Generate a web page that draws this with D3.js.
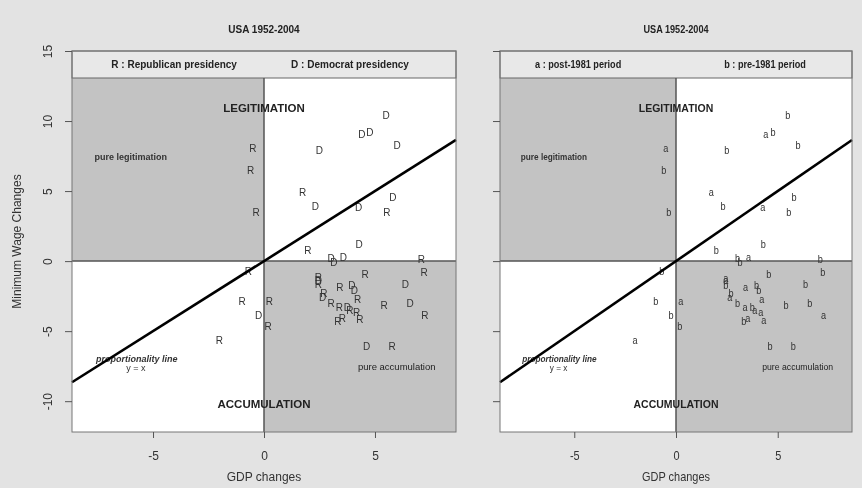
<!DOCTYPE html>
<html><head><meta charset="utf-8">
<script src="https://cdn.jsdelivr.net/npm/d3@7"></script>
<style>
body{margin:0;background:#e3e3e3}
svg{display:block;font-family:"Liberation Sans",Arial,Helvetica,sans-serif;filter:grayscale(100%)}
</style>
</head><body>
<svg id="chart" width="862" height="488"></svg>
<script>
// ---- data ----
const gdpChange = [-0.5,-0.6,-0.35,5.5,4.41,4.77,6.0,2.49,1.74,2.31,4.26,5.8,5.54,4.29,1.98,3.02,3.15,3.57,7.09,
  -0.7,-0.99,0.24,-0.24,0.19,-2.01,7.21,4.56,6.37,3.42,3.96,4.07,4.22,3.02,3.39,3.75,3.87,4.17,4.32,3.53,3.33,
  5.41,6.58,7.25,4.62,5.77,2.45,2.45,2.45,2.7,2.64];
const wageChange = [8.07,6.45,3.48,10.43,9.07,9.17,8.26,7.88,4.88,3.88,3.83,4.52,3.5,1.21,0.79,0.19,-0.1,0.26,0.12,
  -0.76,-2.86,-2.9,-3.9,-4.69,-5.69,-0.83,-0.93,-1.64,-1.85,-1.71,-2.07,-2.72,-3.05,-3.31,-3.31,-3.5,-3.69,-4.2,-4.08,-4.31,
  -3.15,-3.02,-3.86,-6.12,-6.07,-1.2,-1.35,-1.7,-2.3,-2.6];
const presidency = ["R","R","R","D","D","D","D","D","R","D","D","D","R","D","R","D","D","D","R",
  "R","R","R","D","R","R","R","R","D","R","D","D","R","R","R","D","R","R","R","R","R",
  "R","D","R","D","R","R","D","R","R","D"];
const period = ["a","b","b","b","a","b","b","b","a","b","a","b","b","b","b","b","b","a","b",
  "b","b","a","b","b","a","b","b","b","a","b","b","a","b","a","b","a","a","a","a","b",
  "b","b","a","b","b","a","a","b","b","a"];
const xTicks = [-5, 0, 5];
const yTicks = [-10, -5, 0, 5, 10, 15];
const panelTitles = ["USA 1952-2004", "USA 1952-2004"];
const legendPresidency = ["R : Republican presidency", "D : Democrat presidency"];
const legendPeriod = ["a : post-1981 period", "b : pre-1981 period"];
const xTitle = "GDP changes";
const yTitle = "Minimum Wage Changes";

// ---- layout ----
const svg = d3.select("#chart");
svg.append("rect").attr("width",862).attr("height",488).attr("fill","#e3e3e3");

const xDom = [-8.65, 8.65], yDom = [-12.2, 15];
const plotTop = 51, plotBottom = 432, legendH = 27;

const panels = [
  {left:72, right:456, sx:1, labels:presidency, legend:legendPresidency, legendPos:[0.266,0.724], yLabels:true, title:panelTitles[0]},
  {left:500, right:852, sx:0.914, labels:period, legend:legendPeriod, legendPos:[0.222,0.753], yLabels:false, title:panelTitles[1]}
];

function txt(g, x, y, s, o) {
  o = o || {};
  return g.append("text")
    .attr("transform", `translate(${x},${y}) ${o.rot?`rotate(${o.rot})`:""} scale(${o.sx||1},1)`)
    .attr("text-anchor", o.anchor || "middle")
    .attr("font-size", o.size || 10)
    .attr("font-weight", o.weight || "normal")
    .attr("font-style", o.style || "normal")
    .attr("fill", o.fill || "#222")
    .text(s);
}

panels.forEach((p, pi) => {
  const x = d3.scaleLinear().domain(xDom).range([p.left, p.right]);
  const y = d3.scaleLinear().domain(yDom).range([plotBottom, plotTop]);
  const g = svg.append("g");
  const legB = plotTop + legendH;
  const x0 = x(0), y0 = y(0);

  // white plot
  g.append("rect").attr("x",p.left).attr("y",plotTop).attr("width",p.right-p.left).attr("height",plotBottom-plotTop).attr("fill","#fff");
  // shaded quadrants
  g.append("rect").attr("x",p.left).attr("y",legB).attr("width",x0-p.left).attr("height",y0-legB).attr("fill","#c3c3c3");
  g.append("rect").attr("x",x0).attr("y",y0).attr("width",p.right-x0).attr("height",plotBottom-y0).attr("fill","#c3c3c3");
  // legend strip
  g.append("rect").attr("x",p.left).attr("y",plotTop).attr("width",p.right-p.left).attr("height",legendH)
    .attr("fill","#e8e8e8").attr("stroke","#666").attr("stroke-width",1);
  p.legend.forEach((s,i) => txt(g, p.left + p.legendPos[i]*(p.right-p.left), 68, s, {size:10, weight:"bold", sx:p.sx}));

  // reference lines through origin
  g.append("line").attr("x1",p.left).attr("x2",p.right).attr("y1",y0).attr("y2",y0).attr("stroke","#555").attr("stroke-width",1.5);
  g.append("line").attr("x1",x0).attr("x2",x0).attr("y1",legB).attr("y2",plotBottom).attr("stroke","#555").attr("stroke-width",1.5);

  // quadrant labels
  txt(g, x(0), y(10.65), "LEGITIMATION", {size:11.5, weight:"bold", sx:p.sx});
  txt(g, x(0), y(-10.5), "ACCUMULATION", {size:11.5, weight:"bold", sx:p.sx});
  txt(g, x(-6.0), y(7.2), "pure legitimation", {size:9, weight:"bold", sx:p.sx, fill:"#333"});
  txt(g, x(5.98), y(-7.8), "pure accumulation", {size:9.5, sx:p.sx, fill:"#222"});
  txt(g, x(-5.73), y(-7.18), "proportionality line", {size:9, style:"italic", weight:"bold", sx:p.sx, fill:"#333"});
  txt(g, x(-5.77), y(-7.82), "y = x", {size:9, sx:p.sx, fill:"#333"});

  // points as letters
  g.append("g").selectAll("text").data(gdpChange.map((d,i)=>({x:d, y:wageChange[i], l:p.labels[i]})))
    .join("text")
    .attr("transform", d => `translate(${x(d.x)},${y(d.y)}) scale(${p.sx},1)`)
    .attr("text-anchor","middle").attr("dominant-baseline","central")
    .attr("font-size",10).attr("fill","#333").text(d => d.l);

  // y = x line
  g.append("line").attr("x1",x(xDom[0])).attr("y1",y(xDom[0])).attr("x2",x(xDom[1])).attr("y2",y(xDom[1]))
    .attr("stroke","#000").attr("stroke-width",2.6);

  // plot box
  g.append("rect").attr("x",p.left).attr("y",plotTop).attr("width",p.right-p.left).attr("height",plotBottom-plotTop)
    .attr("fill","none").attr("stroke","#777").attr("stroke-width",1);

  // x axis
  const xa = g.append("g").attr("transform",`translate(0,${plotBottom})`)
    .call(d3.axisBottom(x).tickValues(xTicks).tickSize(6).tickFormat(d=>String(d)));
  xa.select(".domain").remove();
  xa.selectAll(".tick line").attr("stroke","#555");
  xa.selectAll(".tick text").attr("y",null).attr("dy",null)
    .attr("transform",`translate(0,28) scale(${p.sx},1)`)
    .attr("font-size",12).attr("fill","#333");
  txt(g, x(0), 481, xTitle, {size:12, sx:p.sx, fill:"#333"});

  // y axis
  const ya = g.append("g").attr("transform",`translate(${p.left},0)`)
    .call(d3.axisLeft(y).tickValues(yTicks).tickSize(7).tickFormat(d=>p.yLabels?String(d):""));
  ya.select(".domain").remove();
  ya.selectAll(".tick line").attr("stroke","#555");
  ya.selectAll(".tick text").attr("x",null).attr("dy",null).attr("text-anchor","middle")
    .attr("transform","translate(-20,0) rotate(-90)")
    .attr("font-size",12).attr("fill","#333");

  // title
  txt(g, (p.left+p.right)/2, 33, p.title, {size:10, weight:"bold", sx:p.sx, fill:"#222"});
  if (pi === 0) txt(g, 21, (plotTop+plotBottom)/2, yTitle, {size:12, rot:-90, fill:"#333"});
});
svg.selectAll("g[font-family]").attr("font-family",null);
</script>
</body></html>
